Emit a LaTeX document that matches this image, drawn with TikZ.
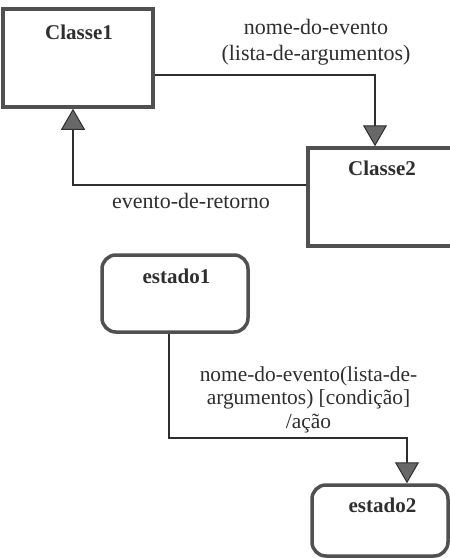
\documentclass[tikz,border=0pt]{standalone}
\usepackage{fontspec}
\setmainfont{Liberation Serif}
\usetikzlibrary{arrows.meta}
\definecolor{boxc}{HTML}{505050}
\definecolor{ink}{HTML}{2E2E2E}
\definecolor{tipc}{HTML}{686868}
\tikzset{
  box/.style={draw=boxc, line width=3.5pt, fill=white, inner sep=0pt},
  sbox/.style={box, rounded corners=14pt},
  title/.style={font=\fontsize{21}{24}\selectfont\bfseries, text=ink, inner sep=0pt, anchor=base},
  lbl/.style={font=\fontsize{22}{26}\selectfont, text=ink, inner sep=0pt, anchor=base},
  lbls/.style={lbl, font=\fontsize{21.4}{24}\selectfont},
  conn/.style={draw=ink, line width=1.8pt, -{Triangle[width=24pt 0,length=21pt 0,fill=tipc,line width=1pt]}}
}
\begin{document}
\begin{tikzpicture}[x=1pt,y=-1pt]
\useasboundingbox (0,0) rectangle (450,558);
\clip (0,0) rectangle (450,558);
% classes
\node[box, minimum width=150pt, minimum height=98pt] (c1) at (78,58) {};
\node[title] (c1t) at (79,39) {Classe1};
\node[box, minimum width=150pt, minimum height=98pt] (c2) at (383,197) {};
\node[title] (c2t) at (382,175) {Classe2};
% messages
\draw[conn] ([yshift=-17pt]c1.east) -| ([xshift=-8pt]c2.north);
\draw[conn] ([yshift=12pt]c2.west) -| ([xshift=-5pt]c1.south);
\node[lbl] (m1a) at (316,34) {nome-do-evento};
\node[lbl] (m1b) at (316,60) {(lista-de-argumentos)};
\node[lbl] (m2) at (191,208) {evento-de-retorno};
% states
\node[sbox, minimum width=146pt, minimum height=77pt] (e1) at (175,293.5) {};
\node[title] (e1t) at (176.5,283) {estado1};
\node[sbox, minimum width=136pt, minimum height=71pt] (e2) at (380,520.5) {};
\node[title] (e2t) at (382.5,512) {estado2};
\coordinate (k) at (169,438);
\draw[conn] ([xshift=-6pt]e1.south) -- (k) -| ([xshift=27pt]e2.north);
\node[lbls] (m3a) at (308.5,381) {nome-do-evento(lista-de-};
\node[lbls] (m3b) at (308.5,404.5) {argumentos) [condição]};
\node[lbls] (m3c) at (308.5,428) {/ação};
\end{tikzpicture}
\end{document}
